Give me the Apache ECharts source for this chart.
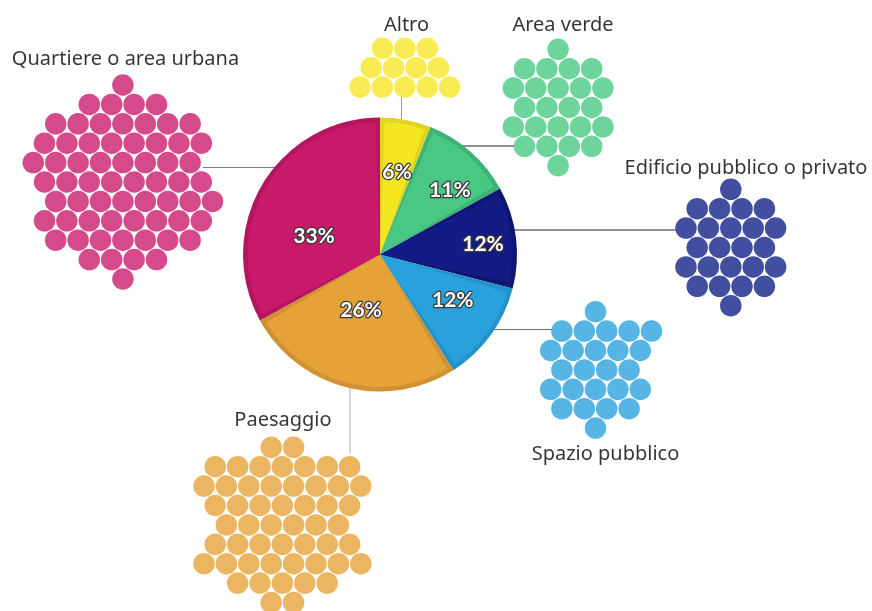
<!DOCTYPE html>
<html>
<head>
<meta charset="utf-8">
<script src="https://cdn.jsdelivr.net/npm/echarts@6/dist/echarts.min.js"></script>
<style>
  html, body { margin: 0; padding: 0; background: #ffffff; }
  #chart { width: 872px; height: 611px; }
</style>
</head>
<body>
<div id="chart"></div>
<script>
// ---- data ----
const categories = ['Altro', 'Area verde', 'Edificio pubblico o privato', 'Spazio pubblico', 'Paesaggio', 'Quartiere o area urbana'];
const percents = [6, 11, 12, 12, 26, 33];
const dotCounts = [12, 24, 24, 25, 52, 64];

// ---- styles ----
const sliceFill   = ['#F5E622', '#48C882', '#131B84', '#29A1DD', '#E5A239', '#C8196A'];
const sliceBorder = ['#E0D323', '#3DB474', '#10166E', '#2491C9', '#CF9132', '#B3165F'];
const dotColors   = ['#F8EC52', '#6DD49C', '#424EA0', '#57B5E6', '#ECB562', '#D54A8B'];
const leaderColors = ['#9a9a9a', '#222222', '#222222', '#6f6f6f', '#a8a8a8', '#7d7d7d'];

// ---- layout (pixels in an 872 x 611 frame) ----
const PIE_C = [380, 254.5];
const PIE_R = 137;
const BAND = 4.5;
const STEP = 22.4;      // horizontal spacing of dots
const ROW_GAP = 19.4;   // vertical spacing of dot rows
const DOT = 21.5;

// hexagonal cluster shapes: [half-step offset, dots in row], anchor = [x of offset 0, y of first row]
const clusterShapes = [
  { anchor: [360, 48.3],   rows: [[2,3],[1,4],[0,5]] },
  { anchor: [513.3, 49.3], rows: [[4,1],[1,4],[0,5],[1,4],[0,5],[1,4],[4,1]] },
  { anchor: [686, 189.3],  rows: [[4,1],[1,4],[0,5],[1,4],[0,5],[1,4],[4,1]] },
  { anchor: [550.7, 311.7],rows: [[4,1],[1,5],[0,5],[1,4],[0,5],[1,4],[4,1]] },
  { anchor: [204, 447.3],  rows: [[6,2],[1,7],[0,8],[1,7],[2,6],[1,7],[0,8],[3,5],[6,2]] },
  { anchor: [33.3, 85],    rows: [[8,1],[5,4],[2,7],[1,8],[0,8],[1,8],[2,8],[1,8],[2,7],[5,4],[8,1]] }
];

// category name positions (center x, middle y)
const namePos = [[406.5, 25.5], [563, 25.5], [746, 168.5], [605.5, 454.5], [283, 420.5], [125.5, 59]];

// leader lines from the pie rim to each cluster
const leaders = [
  [[401.5, 93], [401.5, 122]],
  [[462, 146], [515, 146]],
  [[513, 230], [677, 230]],
  [[492, 329.5], [552, 329.5]],
  [[350, 386], [350, 453]],
  [[276, 167.5], [203, 167.5]]
];

// percentage label placement inside slices: [angle clockwise from top (deg), distance from center]
const labelPolar = [[11.6, 84], [47.3, 95], [84.5, 103.5], [122.2, 86], [198.9, 58.7], [285.3, 68.4]];

function clusterPoints(i) {
  const shape = clusterShapes[i];
  const pts = [];
  shape.rows.forEach(function (row, r) {
    for (let j = 0; j < row[1]; j++) {
      if (pts.length >= dotCounts[i]) return;
      pts.push([shape.anchor[0] + (row[0] + 2 * j) * STEP / 2, shape.anchor[1] + r * ROW_GAP]);
    }
  });
  return pts;
}

const chart = echarts.init(document.getElementById('chart'), null, { renderer: 'canvas' });

const series = [];

// leader lines
leaders.forEach(function (seg, i) {
  series.push({
    type: 'line',
    data: seg,
    symbol: 'none',
    silent: true,
    z: 1,
    lineStyle: { color: leaderColors[i], width: 1 },
    animation: false
  });
});

// dot clusters
categories.forEach(function (name, i) {
  series.push({
    type: 'scatter',
    name: name,
    data: clusterPoints(i),
    symbol: 'circle',
    symbolSize: DOT,
    silent: true,
    z: 2,
    itemStyle: { color: dotColors[i], opacity: 1 },
    animation: false
  });
});

// category names, anchored on an invisible point per cluster
categories.forEach(function (name, i) {
  series.push({
    type: 'scatter',
    data: [namePos[i]],
    symbolSize: 0,
    silent: true,
    z: 3,
    label: {
      show: true,
      position: 'inside',
      formatter: name,
      color: '#000000',
      fontFamily: 'Noto Sans',
      fontSize: 20,
      fontWeight: 400
    },
    animation: false
  });
});

const pieData = categories.map(function (name, i) {
  return { name: name, value: percents[i] };
});

// darker rim of each slice
series.push({
  type: 'pie',
  center: PIE_C,
  radius: PIE_R,
  startAngle: 90,
  clockwise: true,
  silent: true,
  z: 5,
  label: { show: false },
  labelLine: { show: false },
  data: pieData.map(function (d, i) {
    return { name: d.name, value: d.value, itemStyle: { color: sliceBorder[i] } };
  }),
  animation: false
});

// slice fill, inset from the rim
series.push({
  type: 'pie',
  center: PIE_C,
  radius: PIE_R - BAND,
  startAngle: 90,
  clockwise: true,
  padAngle: 4,
  silent: true,
  z: 6,
  data: pieData.map(function (d, i) {
    return { name: d.name, value: d.value, itemStyle: { color: sliceFill[i] } };
  }),
  label: {
    show: true,
    position: 'inside',
    formatter: '{c}%',
    color: '#ffffff',
    fontFamily: 'Lato',
    fontWeight: 'bold',
    fontSize: 21,
    textBorderColor: '#3a3a3a',
    textBorderWidth: 2.5
  },
  labelLine: { show: false },
  labelLayout: function (params) {
    const p = labelPolar[params.dataIndex];
    const a = p[0] * Math.PI / 180;
    return {
      x: PIE_C[0] + p[1] * Math.sin(a),
      y: PIE_C[1] - p[1] * Math.cos(a),
      align: 'center',
      verticalAlign: 'middle'
    };
  },
  animation: false
});

chart.setOption({
  backgroundColor: '#ffffff',
  animation: false,
  grid: { left: 0, right: 0, top: 0, bottom: 0 },
  xAxis: { type: 'value', min: 0, max: 872, show: false },
  yAxis: { type: 'value', min: 0, max: 611, inverse: true, show: false },
  series: series
});
</script>
</body>
</html>
